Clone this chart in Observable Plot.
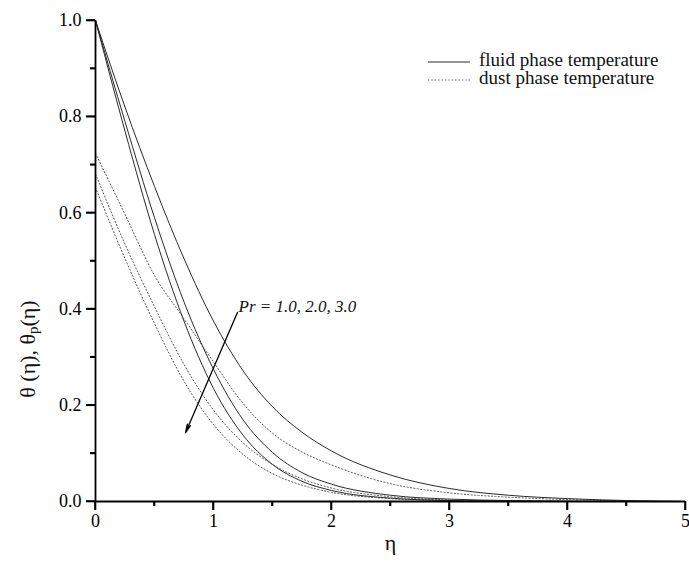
<!DOCTYPE html>
<html>
<head>
<meta charset="utf-8">
<script src="https://cdn.jsdelivr.net/npm/d3@7"></script>
<script src="https://cdn.jsdelivr.net/npm/@observablehq/plot@0.6"></script>
<style>
  html, body { margin: 0; padding: 0; background: #fff; }
  #chart { position: relative; width: 689px; height: 563px; }
  #chart > svg { position: absolute; left: 0; top: 0; }
</style>
</head>
<body>
<div id="chart"></div>
<script>
// ---- data ----
const eta      = [0, 0.25, 0.5, 0.75, 1.0, 1.25, 1.5, 1.75, 2.0, 2.5, 3.0, 3.5, 4.0, 4.5, 5.0];
const fluidPr1 = [1.0, 0.82, 0.655, 0.505, 0.375, 0.272, 0.197, 0.144, 0.105, 0.055, 0.027, 0.013, 0.006, 0.002, 0.0];
const fluidPr2 = [1.0, 0.79, 0.59, 0.415, 0.275, 0.17, 0.102, 0.06, 0.036, 0.013, 0.005, 0.002, 0.0006, 0.0001, 0.0];
const fluidPr3 = [1.0, 0.77, 0.555, 0.375, 0.235, 0.138, 0.077, 0.042, 0.023, 0.007, 0.002, 0.0006, 0.0001, 0.0, 0.0];
const dustPr1  = [0.724, 0.597, 0.47, 0.38, 0.29, 0.204, 0.142, 0.103, 0.076, 0.037, 0.018, 0.009, 0.004, 0.001, 0.0];
const dustPr2  = [0.681, 0.535, 0.405, 0.285, 0.19, 0.122, 0.077, 0.047, 0.028, 0.01, 0.003, 0.001, 0.0003, 0.0, 0.0];
const dustPr3  = [0.653, 0.505, 0.37, 0.25, 0.16, 0.098, 0.058, 0.034, 0.019, 0.006, 0.002, 0.0005, 0.0, 0.0, 0.0];

const xTicks = [0, 1, 2, 3, 4, 5];
const xMinor = [0.5, 1.5, 2.5, 3.5, 4.5];
const yTicks = [0, 0.2, 0.4, 0.6, 0.8, 1.0];
const yMinor = [0.1, 0.3, 0.5, 0.7, 0.9];

const legendLabels = ["fluid phase temperature", "dust phase temperature"];
const annotText = "Pr = 1.0, 2.0, 3.0";
const annotArrow = [{x1: 1.203, y1: 0.393, x2: 0.763, y2: 0.143}];
const annotLabel = [{x: 1.212, y: 0.405, text: annotText}];

// ---- tidy rows ----
const series = [
  {name: "fluid Pr=1.0", kind: "fluid", values: fluidPr1},
  {name: "fluid Pr=2.0", kind: "fluid", values: fluidPr2},
  {name: "fluid Pr=3.0", kind: "fluid", values: fluidPr3},
  {name: "dust Pr=1.0",  kind: "dust",  values: dustPr1},
  {name: "dust Pr=2.0",  kind: "dust",  values: dustPr2},
  {name: "dust Pr=3.0",  kind: "dust",  values: dustPr3}
];
const fluidRows = [], dustRows = [];
for (const s of series) {
  s.values.forEach((v, i) => {
    const row = {eta: eta[i], value: v, series: s.name};
    (s.kind === "fluid" ? fluidRows : dustRows).push(row);
  });
}

const font = "'Liberation Serif', 'Times New Roman', serif";
const frame = {width: 689, height: 563, marginLeft: 95, marginRight: 4, marginTop: 20, marginBottom: 62};

// ---- layer 1: curves, annotation, labels ----
const plotA = Plot.plot({
  ...frame,
  x: {domain: [0, 5], axis: null},
  y: {domain: [0, 1], axis: null},
  marks: [
    Plot.line(dustRows, {x: "eta", y: "value", z: "series", stroke: "#555", strokeWidth: 1, strokeDasharray: "1.2,2.2", curve: "monotone-x"}),
    Plot.line(fluidRows, {x: "eta", y: "value", z: "series", stroke: "#2a2a2a", strokeWidth: 1, curve: "monotone-x"}),
    Plot.arrow(annotArrow, {x1: "x1", y1: "y1", x2: "x2", y2: "y2", stroke: "#000", strokeWidth: 1.3, headLength: 10, headAngle: 22}),
    Plot.text(annotLabel, {x: "x", y: "y", text: "text", textAnchor: "start", fontStyle: "italic", fontFamily: font, fontSize: 17, fill: "#111"}),
    Plot.text(["η"], {frameAnchor: "bottom", dy: 48, fontFamily: font, fontSize: 22, fill: "#111"})
  ]
});
document.getElementById("chart").appendChild(plotA);

const svgA = d3.select(plotA);
const yl = svgA.append("text")
  .attr("transform", "translate(30,349) rotate(-90)")
  .attr("text-anchor", "middle")
  .attr("dominant-baseline", "middle")
  .attr("style", "font-family:" + font + ";font-size:22px")
  .attr("fill", "#111");
yl.append("tspan").text("θ (η), θ");
yl.append("tspan").attr("style", "font-size:15px").attr("dy", 5).text("p");
yl.append("tspan").attr("dy", -5).text("(η)");

const legendStyles = [
  {stroke: "#2a2a2a", dash: null},
  {stroke: "#555", dash: "1.2,2.2"}
];
const lgX = 428, lgY = 62, lgGap = 18;
legendLabels.forEach((label, i) => {
  const y = lgY + i * lgGap;
  svgA.append("line")
    .attr("x1", lgX).attr("x2", lgX + 42)
    .attr("y1", y).attr("y2", y)
    .attr("stroke", legendStyles[i].stroke)
    .attr("stroke-width", 1)
    .attr("stroke-dasharray", legendStyles[i].dash);
  svgA.append("text")
    .attr("x", lgX + 51).attr("y", y)
    .attr("text-anchor", "start")
    .attr("dominant-baseline", "middle")
    .attr("style", "font-family:" + font + ";font-size:19px")
    .attr("fill", "#111")
    .text(label);
});

// ---- layer 2: axes only (ticks + tick labels) ----
const plotB = Plot.plot({
  ...frame,
  x: {domain: [0, 5]},
  y: {domain: [0, 1]},
  marks: [
    Plot.axisX({ticks: xTicks, tickSize: 9, tickPadding: 4, tickFormat: d3.format("d"), label: null, fontFamily: font, fontSize: 18, strokeWidth: 1.6}),
    Plot.axisX({ticks: xMinor, tickSize: 5, tickFormat: () => "", label: null, strokeWidth: 1.6}),
    Plot.axisY({ticks: yTicks, tickSize: 9, tickPadding: 5, tickFormat: d3.format(".1f"), label: null, fontFamily: font, fontSize: 18, strokeWidth: 1.6}),
    Plot.axisY({ticks: yMinor, tickSize: 5, tickFormat: () => "", label: null, strokeWidth: 1.6}),
    Plot.ruleX([0], {stroke: "#000", strokeWidth: 1.8}),
    Plot.ruleY([0], {stroke: "#000", strokeWidth: 1.8})
  ]
});
document.getElementById("chart").appendChild(plotB);

// ---- layer 3: plain SVG tick lines, positioned with Plot's scales ----
const xs = plotB.scale("x"), ys = plotB.scale("y");
const X0 = xs.apply(0), Y0 = ys.apply(0);
const svgC = d3.select("#chart").append("svg")
  .attr("width", 689).attr("height", 563)
  .attr("viewBox", "0 0 689 563");
const gC = svgC.append("g").attr("stroke", "black").attr("stroke-width", 1.6);
xTicks.forEach(v => gC.append("line").attr("x1", xs.apply(v)).attr("x2", xs.apply(v)).attr("y1", Y0).attr("y2", Y0 + 9));
xMinor.forEach(v => gC.append("line").attr("x1", xs.apply(v)).attr("x2", xs.apply(v)).attr("y1", Y0).attr("y2", Y0 + 5));
yTicks.forEach(v => gC.append("line").attr("y1", ys.apply(v)).attr("y2", ys.apply(v)).attr("x1", X0 - 9).attr("x2", X0));
yMinor.forEach(v => gC.append("line").attr("y1", ys.apply(v)).attr("y2", ys.apply(v)).attr("x1", X0 - 5).attr("x2", X0));
</script>
</body>
</html>
